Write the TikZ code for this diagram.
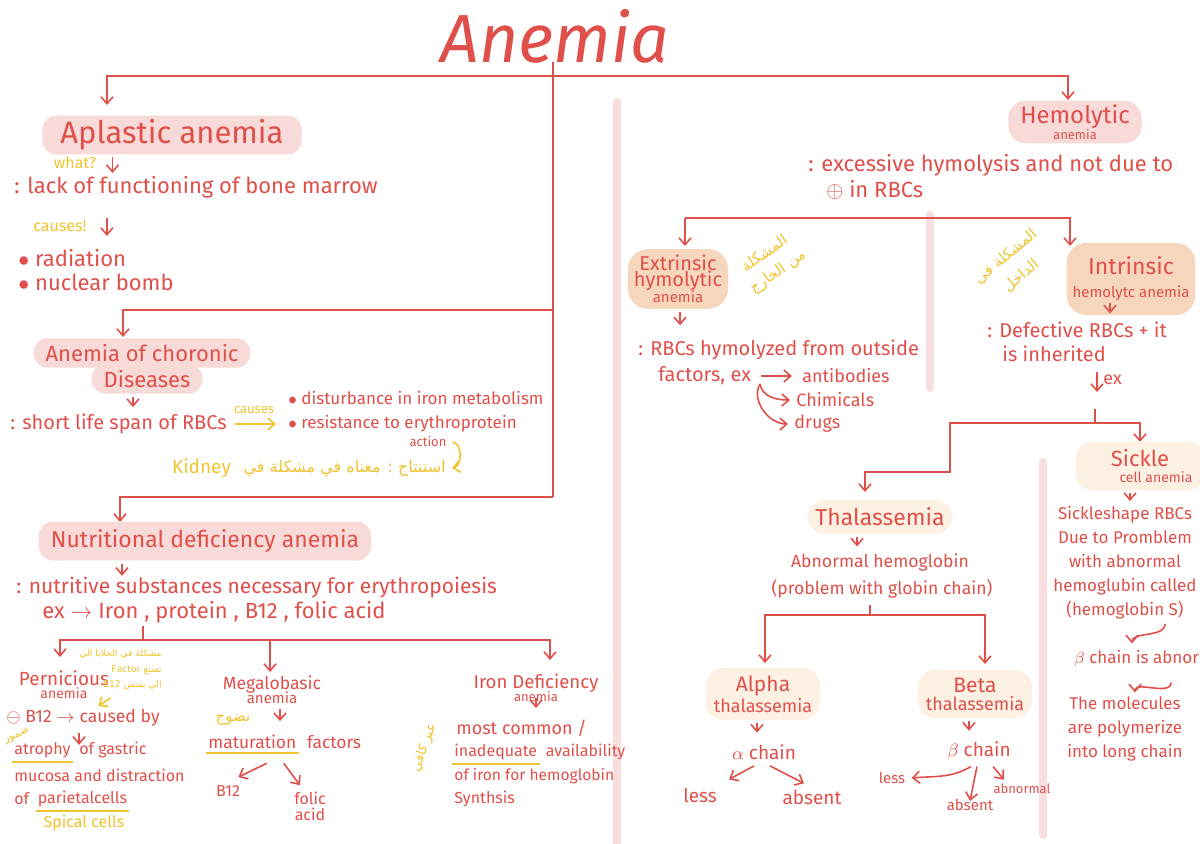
\documentclass[tikz,border=0pt]{standalone}
\usepackage{fontspec}
\setmainfont{Fira Sans}
\newfontfamily\arabicfont[Script=Arabic]{DejaVu Sans}
\TeXXeTstate=1
\usepackage{tikz}
\usetikzlibrary{arrows.meta, positioning}

\definecolor{inkred}{RGB}{224,80,74}
\definecolor{hlpink}{RGB}{248,218,216}
\definecolor{hlpeach}{RGB}{247,214,190}
\definecolor{hlglow}{RGB}{253,241,228}
\definecolor{noteyellow}{RGB}{240,196,46}
\definecolor{divpink}{RGB}{248,222,222}

\newcommand{\fs}[1]{\fontsize{#1}{#1}\selectfont}

\begin{document}
\begin{tikzpicture}[
    x=0.5pt, y=-0.5pt,
    >={Straight Barb[length=3.5pt,width=6pt]},
    txt/.style={text=inkred, font=\fs{11}, inner sep=1pt},
    mid_txt/.style={text=inkred, font=\fs{8.5}, inner sep=1pt},
    low_txt/.style={text=inkred, font=\fs{8}, inner sep=1pt},
    small_txt/.style={text=inkred, font=\fs{6.5}, inner sep=1pt},
    title_txt/.style={text=inkred, font=\fs{34}\itshape},
    note/.style={text=noteyellow, font=\fs{8}, inner sep=1pt},
    ar_note/.style={text=noteyellow, font=\arabicfont\fs{6.5}, inner sep=1pt, align=center},
    head_pink/.style={fill=hlpink, text=inkred, rounded corners=7pt, font=\fs{13}, inner xsep=6pt, inner ysep=3pt, align=center},
    head_peach/.style={fill=hlpeach, text=inkred, rounded corners=10pt, font=\fs{10}, inner sep=4pt, align=center},
    head_glow/.style={fill=hlglow, text=inkred, rounded corners=9pt, font=\fs{9}, inner sep=4pt, align=center},
    link/.style={draw=inkred, line width=0.8pt},
    ylink/.style={draw=noteyellow, line width=0.8pt},
    uline/.style={draw=noteyellow, line width=1pt},
    divider/.style={draw=divpink, line width=4pt, line cap=round}
  ]
  \fill[white] (0,0) rectangle (1200,844);
  \useasboundingbox (0,0) rectangle (1200,844);

  % dividers
  \draw[divider] (617,102) -- (617,850);
  \draw[divider] (930,215) -- (930,388);
  \draw[divider] (1043,462) -- (1043,835);

  % 1. title and the main split
  \node[title_txt] (title) at (555,36) {Anemia};
  \coordinate (jtop) at (553,76);
  \coordinate (aplA) at (107,105);
  \coordinate (hemA) at (1068,100);
  \coordinate (jacd) at (553,310);
  \coordinate (jnda) at (553,497);
  \coordinate (acdA) at (123,337);
  \coordinate (ndaA) at (120,522);
  \draw[link] (jtop) -- ++(0,-14);
  \draw[link,->] (jtop) -| (aplA);
  \draw[link,->] (jtop) -| (hemA);
  \draw[link] (jtop) -- (jnda);
  \draw[link,->] (jacd) -| (acdA);
  \draw[link,->] (jnda) -| (ndaA);

  % 2. aplastic anemia
  \node[head_pink, font=\fs{15.5}, inner xsep=9pt, inner ysep=2pt] (aplastic) at (172,135) {Aplastic anemia};
  \node[note] (what) at (75,163) {what?};
  \draw[link,->] ([shift={(14,-6)}]what.east) -- ++(0,16);
  \node[txt, anchor=west] (lack) at (12,187) {: lack of functioning of bone marrow};
  \node[note] (causes) at (60,226) {causes!};
  \draw[link,->] ([shift={(18,-8)}]causes.east) -- ++(0,18);
  \node[txt, anchor=west] (rad) at (16,258) {$\bullet$ radiation};
  \node[txt, anchor=west] (nuc) at (16,282) {$\bullet$ nuclear bomb};

  % 3. anemia of chronic diseases
  \node[head_pink, font=\fs{11}] (acd) at (142,353) {Anemia of choronic};
  \node[head_pink, font=\fs{11}, inner ysep=3pt] (acdb) at (147,379) {Diseases};
  \draw[link,->] ([shift={(-14,3)}]acdb.south) -- ++(0,10);
  \node[txt, font=\fs{10}, anchor=west] (short) at (8,424) {: short life span of RBCs};
  \node[mid_txt, anchor=west] (dist) at (286,398) {$\bullet$ disturbance in iron metabolism};
  \node[mid_txt, anchor=west] (resist) at (286,424) {$\bullet$ resistance to erythroprotein};
  \node[small_txt] (action) at (428,442) {action};
  \draw[ylink,->,shorten <=3pt,shorten >=5pt] (short.east) -- (short.east -| resist.west);
  \node[note, font=\fs{6.5}] (causesb) at (254,410) {causes};
  \node[ar_note, font=\arabicfont\fs{8}, anchor=east] (concl) at (448,468)
    {\beginR استنتاج : معناه في مشكلة في\endR};
  \node[note, font=\fs{9.5}, anchor=east] (kidney) at ([xshift=-4pt]concl.west) {Kidney};
  \draw[ylink,->] ([xshift=2pt]action.east) to[out=-10,in=10] ([xshift=2pt]concl.east);

  % 4. nutritional deficiency anemia
  \node[head_pink, font=\fs{11.5}, inner ysep=4pt] (nda) at (205,541) {Nutritional deficiency anemia};
  \draw[link,->] ([shift={(-83,3)}]nda.south) -- ++(0,12);
  \node[txt, font=\fs{10.5}, anchor=west] (nut) at (14,588) {: nutritive substances necessary for erythropoiesis};
  \node[txt, anchor=west] (exn) at (40,612) {ex $\rightarrow$ Iron , protein , B12 , folic acid};
  \coordinate (jnut) at (143,640);
  \coordinate (pernA) at (60,657);
  \coordinate (megA) at (270,672);
  \coordinate (ironA) at (550,660);
  \draw[link] (jnut) -- ++(0,-14);
  \draw[link,->] (jnut) -| (pernA);
  \draw[link,->] (jnut) -| (megA);
  \draw[link,->] (jnut) -| (ironA);

  % 4a. pernicious
  \node[txt, align=center, font=\fs{9.5}] (pern) at (64,685) {Pernicious\\[-3pt]{\fs{7}anemia}};
  \node[ar_note, font=\arabicfont\fs{4.6}, anchor=east] (pnote1) at (164,654) {\beginR مشكلة في الخلايا الي\endR};
  \node[ar_note, font=\arabicfont\fs{4.6}, anchor=east] (pnote2) at (164,670) {\beginR تصنع \beginL Factor\endL{}\endR};
  \node[ar_note, font=\arabicfont\fs{4.6}, anchor=east] (pnote3) at (164,685) {\beginR الي يمتص \beginL B12\endL{}\endR};
  \draw[ylink,->] ([shift={(10,6)}]pnote3.south west) -- ++(-12,8);
  \node[low_txt, font=\fs{8.8}, anchor=west] (pb12) at (4,718) {$\ominus$ B12 $\rightarrow$ caused by};
  \draw[link,->] ([shift={(-4,4)}]pb12.south) -- ++(0,12);
  \node[low_txt, anchor=west] (atr) at (12,750) {atrophy};
  \node[low_txt, anchor=west] (atrb) at ([xshift=2pt]atr.east) {of gastric};
  \draw[uline] ([yshift=-1pt]atr.south west) -- ([yshift=-1pt]atr.south east);
  \node[ar_note, font=\arabicfont\fs{5.5}, rotate=25] (dumoor) at (17,736) {\beginR ضمور\endR};
  \node[low_txt, anchor=west] (muc) at (12,775) {mucosa and distraction};
  \node[low_txt, anchor=west] (ofp) at (12,799) {of};
  \node[low_txt, anchor=west] (par) at ([xshift=2pt]ofp.east) {parietalcells};
  \draw[uline] ([yshift=-1pt]par.south west) -- ([yshift=-1pt]par.south east);
  \node[note] (spical) at (84,823) {Spical cells};

  % 4b. megaloblastic
  \node[txt, align=center, font=\fs{8.8}] (meg) at (272,690) {Megalobasic\\[-2pt]{\fs{7.5}anemia}};
  \draw[link,->] ([shift={(8,3)}]meg.south) -- ++(0,12);
  \node[ar_note, font=\arabicfont\fs{7.5}] (nudooj) at (233,720) {\beginR نضوج\endR};
  \node[low_txt, font=\fs{8.7}, anchor=west] (mat) at (206,742) {maturation};
  \node[low_txt, font=\fs{8.7}, anchor=west] (matb) at ([xshift=3pt]mat.east) {factors};
  \draw[uline] ([yshift=-1pt]mat.south west) -- ([yshift=-1pt]mat.south east);
  \node[low_txt] (mb12) at (228,791) {B12};
  \node[low_txt, align=center] (folic) at (310,806) {folic\\acid};
  \draw[link,->] ([shift={(-32,12)}]mat.south east) -- ([shift={(-4,-6)}]mb12.north east);
  \draw[link,->] ([shift={(-15,12)}]mat.south east) -- ([shift={(-10,-4)}]folic.north);

  % 4c. iron deficiency
  \node[txt, align=center, font=\fs{9.3}] (iron) at (536,688) {Iron Deficiency\\[-3pt]{\fs{6.5}anemia}};
  \draw[link,->] ([yshift=3pt]iron.south) -- ++(0,10);
  \node[low_txt, font=\fs{9}, anchor=west] (most) at (454,728) {most common /};
  \node[low_txt, anchor=west] (inad) at (452,752) {inadequate};
  \node[low_txt, anchor=west] (inadb) at ([xshift=2pt]inad.east) {availability};
  \draw[uline] ([yshift=-1pt]inad.south west) -- ([yshift=-1pt]inad.south east);
  \node[low_txt, font=\fs{7.8}, anchor=west] (ofiron) at (452,776) {of iron for hemoglobin};
  \node[low_txt, anchor=west] (synth) at (452,799) {Synthsis};
  \node[ar_note, font=\arabicfont\fs{6.5}, rotate=70] (ghair) at (424,748) {\beginR غير كافي\endR};

  % 5. hemolytic anemia
  \node[head_pink, font=\fs{12}, rounded corners=9pt, inner ysep=2pt] (hemo) at (1075,122) {Hemolytic\\[-4pt]{\fs{6.5}anemia}};
  \node[txt, anchor=west] (exc) at (806,165) {: excessive hymolysis and not due to};
  \node[txt, anchor=west] (plus) at (824,190) {$\oplus$ in RBCs};
  \coordinate (jext) at (685,218);
  \coordinate (jint) at (1070,218);
  \coordinate (extA) at (685,246);
  \coordinate (intA) at (1070,246);
  \draw[link,->] (jext) -- (extA);
  \draw[link,->] (jext) -- (jint) -- (intA);

  % 5a. extrinsic
  \node[head_peach, inner sep=3pt] (extr) at (678,279) {Extrinsic\\[-2pt]hymolytic\\[-2pt]{\fs{7.5}anemia}};
  \node[ar_note, font=\arabicfont\fs{7.5}, rotate=35] (extnote) at (764,253) {\beginR المشكلة\endR};
  \node[ar_note, font=\arabicfont\fs{7.5}, rotate=35] (extnoteb) at (778,272) {\beginR من الخارج\endR};
  \draw[link,->] ([shift={(2,3)}]extr.south) -- ++(0,13);
  \node[txt, font=\fs{10}, anchor=west] (rbcs) at (636,350) {: RBCs hymolyzed from outside};
  \node[txt, font=\fs{10}, anchor=west] (fact) at (656,376) {factors, ex};
  \node[mid_txt, font=\fs{9}, anchor=west] (antib) at (800,376) {antibodies};
  \node[mid_txt, font=\fs{9}, anchor=west] (chim) at (794,400) {Chimicals};
  \node[mid_txt, font=\fs{9}, anchor=west] (drugs) at (792,424) {drugs};
  \draw[link,->,shorten <=4pt,shorten >=4pt] (fact.east) -- (antib.west);
  \coordinate (jfact) at (760,384);
  \draw[link,->] (jfact) to[out=-80,in=180] ([xshift=-2pt]chim.west);
  \draw[link,->] (jfact) to[out=-120,in=180] ([xshift=-2pt]drugs.west);

  % 5b. intrinsic
  \node[head_peach, font=\fs{11.5}, inner ysep=7pt, inner xsep=3pt] (intr) at (1131,279) {Intrinsic\\{\fs{7.5}hemolytc anemia}};
  \node[ar_note, font=\arabicfont\fs{7.5}, rotate=40] (intnote) at (1006,257) {\beginR المشكلة في\endR};
  \node[ar_note, font=\arabicfont\fs{7.5}, rotate=40] (intnoteb) at (1021,276) {\beginR الداخل\endR};
  \draw[link,->] ([shift={(-21,-12)}]intr.south) -- ++(0,10);
  \node[txt, font=\fs{10}, anchor=west] (defect) at (985,330) {: Defective RBCs + it};
  \node[txt, font=\fs{10}, anchor=west] (inher) at (1000,354) {is inherited};
  \coordinate (exA) at (1097,372);
  \draw[link,->] (exA) -- ++(0,20);
  \node[txt, font=\fs{9}, anchor=west] (exi) at ([shift={(4,8)}]exA) {ex};
  \coordinate (jinh) at (1095,423);
  \coordinate (jbend) at (950,423);
  \coordinate (jbend2) at (950,472);
  \coordinate (thalA) at (865,492);
  \coordinate (sickA) at (1140,442);
  \draw[link] (jinh) -- ++(0,-14);
  \draw[link,->] (jinh) -- (jbend) -- (jbend2) -| (thalA);
  \draw[link,->] (jinh) -| (sickA);

  % 6. thalassemia
  \node[head_glow, font=\fs{11.5}] (thal) at (880,517) {Thalassemia};
  \draw[link,->] ([shift={(-23,2)}]thal.south) -- ++(0,10);
  \node[txt, font=\fs{8.8}] (abn) at (880,563) {Abnormal hemoglobin};
  \node[txt, font=\fs{8.8}] (prob) at (882,589) {(problem with globin chain)};
  \coordinate (jthal) at (870,615);
  \coordinate (alphaA) at (765,663);
  \coordinate (betaA) at (985,664);
  \draw[link] (jthal) -- ++(0,-10);
  \draw[link,->] (jthal) -| (alphaA);
  \draw[link,->] (jthal) -| (betaA);

  % 6a. alpha
  \node[head_glow] (alpha) at (763,694) {{\fs{10.5}Alpha}\\thalassemia};
  \draw[link,->] ([shift={(-6,2)}]alpha.south) -- ++(0,10);
  \node[txt, font=\fs{9.5}] (achain) at (764,752) {$\alpha$ chain};
  \node[txt, font=\fs{9.5}] (aless) at (700,795) {less};
  \node[txt, font=\fs{9.5}] (aabs) at (812,797) {absent};
  \draw[link,->] ([shift={(-10,4)}]achain.south) -- ([shift={(10,-6)}]aless.north east);
  \draw[link,->] ([shift={(6,4)}]achain.south) -- ([shift={(-8,-4)}]aabs.north);

  % 6b. beta
  \node[head_glow] (beta) at (975,694) {{\fs{10.5}Beta}\\thalassemia};
  \draw[link,->] ([shift={(-6,2)}]beta.south) -- ++(0,10);
  \node[txt, font=\fs{9.5}] (bchain) at (979,751) {$\beta$ chain};
  \node[small_txt, font=\fs{7.5}] (bless) at (892,778) {less};
  \node[small_txt, font=\fs{7.5}] (babs) at (970,805) {absent};
  \node[small_txt] (babn) at (1022,789) {abnormal};
  \draw[link,->] ([shift={(-8,4)}]bchain.south) to[out=-150,in=5] ([xshift=2pt]bless.east);
  \draw[link,->] ([shift={(-2,4)}]bchain.south) -- ([yshift=-2pt]babs.north);
  \draw[link,->] ([shift={(14,4)}]bchain.south) -- ([shift={(-18,-2)}]babn.north);

  % 7. sickle cell anemia
  \node[head_glow, font=\fs{11}, inner xsep=6pt] (sickle) at (1140,466) {Sickle\\[-3pt]{\fs{7}\hspace*{16pt}cell anemia}};
  \draw[link,->] ([shift={(-10,2)}]sickle.south) -- ++(0,8);
  \node[mid_txt, align=center, font=\fontsize{8.5}{12}\selectfont] (sshape) at (1125,563) {Sickleshape RBCs\\Due to Promblem\\with abnormal\\hemoglubin called\\(hemoglobin S)};
  \node[mid_txt, anchor=west] (sbeta) at (1072,658) {$\beta$ chain is abnormal};
  \node[mid_txt, align=center, font=\fontsize{8.5}{12}\selectfont] (smol) at (1125,729) {The molecules\\are polymerize\\into long chain};
  \draw[link,->] ([shift={(40,2)}]sshape.south) .. controls +(0,14) and +(0,-12) .. ([shift={(60,-4)}]sbeta.north west);
  \draw[link,->] ([shift={(46,-12)}]smol.north) .. controls +(0,14) and +(0,-12) .. ([shift={(10,-2)}]smol.north);
\end{tikzpicture}
\end{document}
